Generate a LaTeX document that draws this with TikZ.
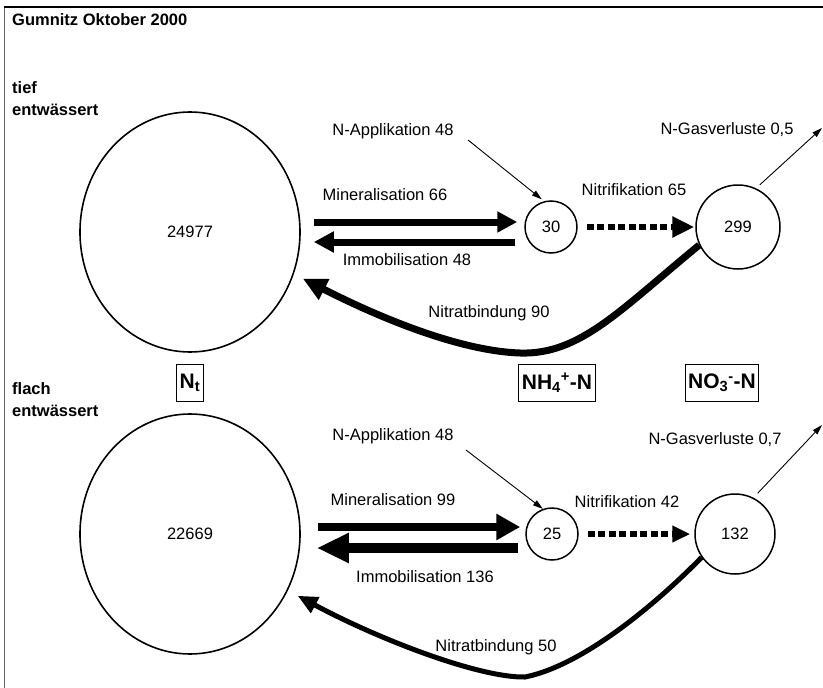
\documentclass[tikz,border=0pt]{standalone}
\usepackage{fontspec}
\setmainfont{Liberation Sans}
\usetikzlibrary{arrows.meta,shapes.geometric,calc}

\tikzset{
  pool/.style={draw, line width=1.6pt, ellipse, minimum width=220pt, minimum height=240pt, inner sep=0pt, font=\fontsize{16.5}{18}\selectfont},
  pot/.style={draw, line width=1.5pt, circle, inner sep=0pt, font=\fontsize{16.5}{18}\selectfont},
  lbl/.style={inner sep=0pt, font=\fontsize{16.5}{18}\selectfont},
  hdr/.style={inner sep=0pt, anchor=west, font=\fontsize{16.5}{18}\selectfont\bfseries},
  species/.style={draw, line width=0.9pt, inner sep=3pt, minimum height=37pt, font=\fontsize{21}{24}\selectfont\bfseries},
  flux/.style n args={3}{line width=#1, -{Triangle[length=#2,width=#3]}},
  nitri/.style n args={3}{line width=#1, dash pattern=on 7pt off 3.5pt, -{Triangle[length=#2,width=#3]}},
  thinflux/.style={line width=0.9pt, -{Triangle[length=10pt,width=6pt]}}
}

\begin{document}
\begin{tikzpicture}[x=1pt,y=-1pt]
\useasboundingbox (0,0) rectangle (823,688);
\draw[line width=1pt, black!60] (4,700) -- (4,7);
\draw[line width=1.2pt] (4,7) -- (830,7);

\node[hdr] (title) at (12,20) {Gumnitz Oktober 2000};
\node[hdr] (tief) at (12,88) {tief};
\node[hdr] (tiefb) at (12,110) {entwässert};
\node[hdr] (flach) at (12,389) {flach};
\node[hdr] (flachb) at (12,411) {entwässert};

\node[species] (sNt) at (190,383) {N\textsubscript{t}};
\node[species] (sNH) at (557,383) {NH\textsubscript{4}\textsuperscript{+}-N};
\node[species] (sNO) at (722,383) {NO\textsubscript{3}\textsuperscript{-}-N};

\node[pool] (nt1) at (190,232) {24977};
\node[pot, minimum size=52pt] (n30) at (551,227) {30};
\node[pot, minimum size=84pt] (n299) at (738,227) {299};
\node[pool] (nt2) at (190,534) {22669};
\node[pot, minimum size=52pt] (n25) at (552,534) {25};
\node[pot, minimum size=80pt] (n132) at (735,534) {132};

\node[lbl] (appl1) at (393,131) {N-Applikation 48};
\node[lbl] (gas1l) at (727,130) {N-Gasverluste 0,5};
\node[lbl] (min1) at (385,195) {Mineralisation 66};
\node[lbl] (imm1) at (407,260) {Immobilisation 48};
\node[lbl] (nit1) at (634,190) {Nitrifikation 65};
\node[lbl] (nb1) at (489,313) {Nitratbindung 90};

\node[lbl] (appl2) at (393,436) {N-Applikation 48};
\node[lbl] (gas2l) at (715,440) {N-Gasverluste 0,7};
\node[lbl] (min2) at (393,500) {Mineralisation 99};
\node[lbl] (imm2) at (425,577) {Immobilisation 136};
\node[lbl] (nit2) at (627,502) {Nitrifikation 42};
\node[lbl] (nb2) at (496,647) {Nitratbindung 50};

\coordinate (app1) at (468,140);
\coordinate (gas1) at (822,128);
\coordinate (app2) at (466,450);
\coordinate (gas2) at (822,425);

\draw[flux={7pt}{20pt}{20pt}] ($(nt1.east |- n30.center)+(13,-5)$) -- ($(n30.west)+(-7,-5)$);
\draw[flux={7pt}{20pt}{20pt}] ($(n30.west)+(-9,15)$) -- ($(nt1.east |- n30.center)+(13,15)$);
\draw[nitri={6.5pt}{22pt}{20pt}, shorten <=9pt, shorten >=1pt] (n30) -- (n299);
\draw[thinflux, shorten >=3pt] (app1) -- (n30.105);
\draw[thinflux, shorten <=5pt] (n299.65) -- (gas1);
\draw[flux={7pt}{24pt}{22pt}, shorten >=10pt] (n299.205) .. controls (620,310) and (580,355) .. (520,353) .. controls (460,351) and (380,318) .. (nt1.-22);

\draw[flux={8.5pt}{24pt}{25pt}] ($(nt2.east |- n25.center)+(17,-7)$) -- ($(n25.west)+(-5,-7)$);
\draw[flux={10pt}{32pt}{28pt}] ($(n25.west)+(-7,14)$) -- ($(nt2.east |- n25.center)+(16,14)$);
\draw[nitri={5.5pt}{18pt}{16pt}, shorten <=9pt, shorten >=4pt] (n25) -- (n132);
\draw[thinflux] (app2) -- (n25.110);
\draw[thinflux, shorten <=6pt] (n132.63) -- (gas2);
\draw[flux={5pt}{20pt}{17pt}, shorten >=11pt] (n132.215) .. controls (660,600) and (585,665) .. (525,677) .. controls (480,678) and (380,640) .. (nt2.-30);
\end{tikzpicture}
\end{document}
